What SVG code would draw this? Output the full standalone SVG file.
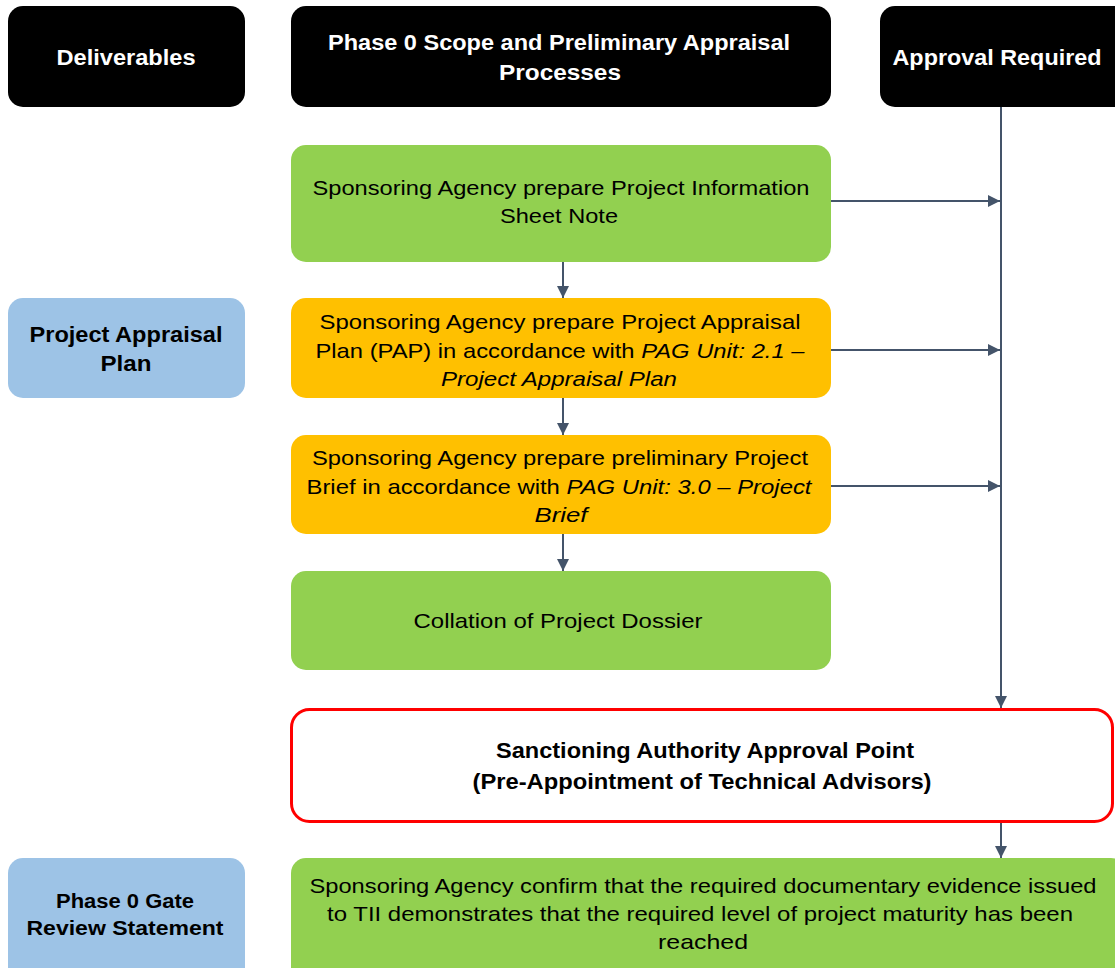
<svg xmlns="http://www.w3.org/2000/svg" width="1115" height="968" viewBox="0 0 1115 968">
<style>
.hdr{fill:#000}
.blue{fill:#9DC3E6}
.green{fill:#92D050}
.orange{fill:#FFC000}
.red{fill:#fff;stroke:#FF0000;stroke-width:3}
.ht{font-family:"Liberation Sans Narrow","Liberation Sans",Arial,sans-serif;font-weight:bold;font-size:22px;fill:#fff;text-anchor:middle}
.bt{font-family:"Liberation Sans Narrow","Liberation Sans",Arial,sans-serif;font-weight:bold;font-size:22px;fill:#000;text-anchor:middle}
.tx{font-family:"Liberation Sans",Arial,sans-serif;font-size:21px;fill:#000;text-anchor:middle}
.it{font-style:italic}
.ln{stroke:#44546A;stroke-width:2;fill:none}
</style>
<defs>
<marker id="ah" viewBox="0 0 10 10" refX="10" refY="5" markerWidth="12" markerHeight="12" markerUnits="userSpaceOnUse" orient="auto">
<path d="M0,0 L10,5 L0,10 z" fill="#44546A"/>
</marker>
</defs>

<g id="connectors">
<line class="ln" x1="1001" y1="107" x2="1001" y2="708" marker-end="url(#ah)"/>
<line class="ln" x1="831" y1="201" x2="1000" y2="201" marker-end="url(#ah)"/>
<line class="ln" x1="831" y1="350" x2="1000" y2="350" marker-end="url(#ah)"/>
<line class="ln" x1="831" y1="486" x2="1000" y2="486" marker-end="url(#ah)"/>
<line class="ln" x1="563" y1="262" x2="563" y2="298" marker-end="url(#ah)"/>
<line class="ln" x1="563" y1="398" x2="563" y2="435" marker-end="url(#ah)"/>
<line class="ln" x1="563" y1="534" x2="563" y2="571" marker-end="url(#ah)"/>
<line class="ln" x1="1001" y1="823" x2="1001" y2="858" marker-end="url(#ah)"/>
</g>

<g id="hdr-deliverables">
<rect class="hdr" x="8" y="6" width="237" height="101" rx="15"/>
<text class="ht" x="126" y="65" textLength="139" lengthAdjust="spacingAndGlyphs">Deliverables</text>
</g>
<g id="hdr-phase0">
<rect class="hdr" x="291" y="6" width="540" height="101" rx="15"/>
<text class="ht" x="559" y="50" textLength="462" lengthAdjust="spacingAndGlyphs">Phase 0  Scope and Preliminary Appraisal</text>
<text class="ht" x="560" y="80" textLength="122" lengthAdjust="spacingAndGlyphs">Processes</text>
</g>
<g id="hdr-approval">
<rect class="hdr" x="880" y="6" width="250" height="101" rx="15"/>
<text class="ht" x="997" y="65" textLength="209" lengthAdjust="spacingAndGlyphs">Approval Required</text>
</g>

<g id="n-info-sheet">
<rect class="green" x="291" y="145" width="540" height="117" rx="15"/>
<text class="tx" x="561" y="195" textLength="497" lengthAdjust="spacingAndGlyphs">Sponsoring Agency prepare Project Information</text>
<text class="tx" x="559" y="223" textLength="118" lengthAdjust="spacingAndGlyphs">Sheet Note</text>
</g>

<g id="d-pap">
<rect class="blue" x="8" y="298" width="237" height="100" rx="15"/>
<text class="bt" x="126" y="342" textLength="193" lengthAdjust="spacingAndGlyphs">Project Appraisal</text>
<text class="bt" x="126" y="371" textLength="51" lengthAdjust="spacingAndGlyphs">Plan</text>
</g>

<g id="n-pap">
<rect class="orange" x="291" y="298" width="540" height="100" rx="15"/>
<text class="tx" x="560" y="329" textLength="481" lengthAdjust="spacingAndGlyphs">Sponsoring Agency prepare Project Appraisal</text>
<text class="tx" x="560" y="358" textLength="489" lengthAdjust="spacingAndGlyphs">Plan (PAP) in accordance with <tspan class="it">PAG Unit: 2.1 –</tspan></text>
<text class="tx it" x="559" y="386" textLength="236" lengthAdjust="spacingAndGlyphs">Project Appraisal Plan</text>
</g>

<g id="n-brief">
<rect class="orange" x="291" y="435" width="540" height="99" rx="15"/>
<text class="tx" x="560" y="465" textLength="496" lengthAdjust="spacingAndGlyphs">Sponsoring Agency prepare preliminary Project</text>
<text class="tx" x="559" y="494" textLength="505" lengthAdjust="spacingAndGlyphs">Brief in accordance with <tspan class="it">PAG Unit: 3.0 – Project</tspan></text>
<text class="tx it" x="561" y="522" textLength="53" lengthAdjust="spacingAndGlyphs">Brief</text>
</g>

<g id="n-dossier">
<rect class="green" x="291" y="571" width="540" height="99" rx="15"/>
<text class="tx" x="558" y="628" textLength="289" lengthAdjust="spacingAndGlyphs">Collation of Project Dossier</text>
</g>

<g id="n-approval-point">
<rect class="red" x="291.5" y="709.5" width="821" height="112" rx="18"/>
<text class="bt" x="705" y="758" textLength="418" lengthAdjust="spacingAndGlyphs">Sanctioning  Authority  Approval  Point</text>
<text class="bt" x="702" y="789" textLength="459" lengthAdjust="spacingAndGlyphs">(Pre-Appointment of Technical Advisors)</text>
</g>

<g id="d-gate">
<rect class="blue" x="8" y="858" width="237" height="125" rx="15"/>
<text class="bt" x="125" y="908" textLength="138" lengthAdjust="spacingAndGlyphs" style="font-size:20px">Phase 0 Gate</text>
<text class="bt" x="125" y="935" textLength="197" lengthAdjust="spacingAndGlyphs" style="font-size:20px">Review Statement</text>
</g>

<g id="n-gate">
<rect class="green" x="291" y="858" width="835" height="125" rx="15"/>
<text class="tx" x="703" y="893" textLength="787" lengthAdjust="spacingAndGlyphs">Sponsoring Agency confirm that the required documentary evidence issued</text>
<text class="tx" x="700" y="921" textLength="746" lengthAdjust="spacingAndGlyphs">to TII  demonstrates that the required level of project maturity has been</text>
<text class="tx" x="703" y="949" textLength="90" lengthAdjust="spacingAndGlyphs">reached</text>
</g>
</svg>
